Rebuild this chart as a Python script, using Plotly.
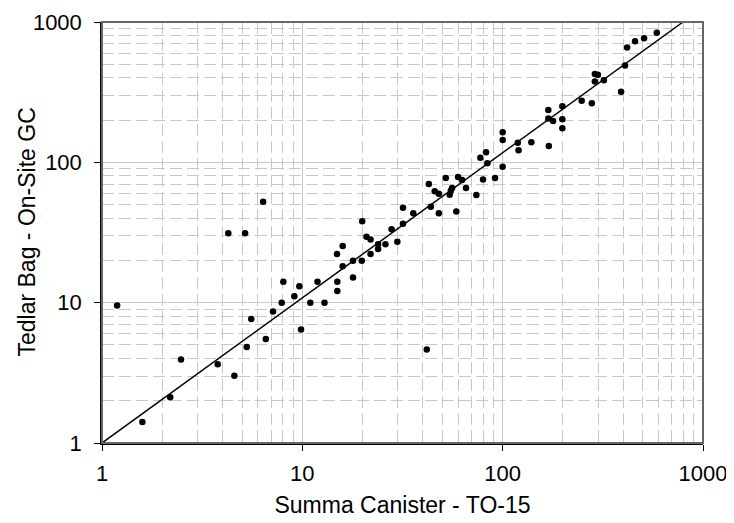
import plotly.graph_objects as go

canister = [1.19, 1.59, 2.19, 2.48, 3.78, 4.58, 5.28, 5.56, 6.57, 7.14, 7.89, 9.12, 9.85,
            8.04, 9.66, 10.96, 11.9, 12.9, 14.95, 14.95, 15.9, 17.9, 17.9, 19.8,
            4.27, 5.18, 6.37, 14.9, 15.9, 19.9, 20.9, 21.9, 21.9, 23.9, 23.9, 26.0,
            27.9, 29.8, 31.8, 35.8, 31.8, 41.8, 42.8, 43.8, 45.8, 48.0, 48.0, 52.0,
            54.4, 55.1, 55.9, 58.7, 59.9, 62.7, 65.6, 73.9, 77.4, 79.8, 82.6, 83.9,
            91.6, 100, 100, 100, 119, 120, 139, 170, 169, 169, 178.5, 198.6, 198.6,
            198.6, 248, 278.6, 288.5, 298.6, 288.5, 320, 390, 408, 418, 458, 508, 588]
tedlar = [9.55, 1.41, 2.12, 3.94, 3.64, 3.02, 4.84, 7.66, 5.52, 8.65, 10.0, 11.1, 6.44,
          14.1, 13.1, 10.0, 14.1, 10.0, 14.1, 12.1, 18.2, 15.1, 19.9, 19.9,
          31.3, 31.3, 52.4, 22.2, 25.3, 38.1, 29.5, 28.2, 22.2, 26.1, 24.1, 26.1,
          33.3, 27.2, 36.5, 43.3, 47.5, 4.64, 70.0, 48.2, 62.1, 59.7, 43.3, 77.3,
          58.7, 62.7, 65.6, 44.7, 78.6, 74.8, 65.6, 58.4, 107.9, 75.6, 117.8, 98.4,
          77.3, 164, 144, 93, 138, 122, 139, 131, 236, 205, 197, 251, 203,
          175, 275, 264, 426, 421, 376, 385, 319, 489, 657, 730, 766, 840]

fit_x = [1, 795]
fit_y = [1, 1000]

tick_vals = [1, 10, 100, 1000]
tick_text = ["1", "10", "100", "1000"]

FONT = "Liberation Sans, Arial, sans-serif"
GRID = "#c8c8c8"

fig = go.Figure()
fig.add_trace(go.Scatter(x=fit_x, y=fit_y, mode="lines",
                         line=dict(color="black", width=1.5), showlegend=False,
                         hoverinfo="skip"))
fig.add_trace(go.Scatter(x=canister, y=tedlar, mode="markers",
                         marker=dict(color="black", size=6.5), showlegend=False))

axis_common = dict(
    type="log",
    range=[0, 3],
    automargin=False,
    tickvals=tick_vals,
    ticktext=tick_text,
    ticks="outside",
    ticklen=6,
    tickcolor="black",
    showline=True,
    linecolor="black",
    linewidth=1.5,
    showgrid=True,
    gridcolor=GRID,
    gridwidth=1,
    zeroline=False,
    tickfont=dict(family=FONT, size=22, color="black"),
    minor=dict(
        tickvals=[m * 10**d for d in range(3) for m in range(2, 10)],
        showgrid=True,
        gridcolor=GRID,
        gridwidth=1,
        griddash="12px,5px",
        ticks="",
    ),
)

fig.update_xaxes(**axis_common, ticklabelstandoff=4,
                 title=dict(text="Summa Canister - TO-15",
                            font=dict(family=FONT, size=23, color="black"),
                            standoff=12))
fig.update_yaxes(**axis_common, ticklabelstandoff=8)

fig.add_annotation(text="Tedlar Bag - On-Site GC", textangle=-90,
                   xref="paper", yref="paper", x=0, y=0.5,
                   xanchor="center", yanchor="middle", xshift=-76,
                   showarrow=False,
                   font=dict(family=FONT, size=23, color="black"))

fig.add_shape(type="rect", xref="paper", yref="paper", x0=0, y0=0, x1=1, y1=1,
              line=dict(color="#666666", width=2), layer="above")

# page body has an 8px default margin, so the figure is sized to fit inside it
fig.update_layout(
    width=726, height=515,
    margin=dict(l=94, r=31, t=14, b=80),
    plot_bgcolor="white",
    paper_bgcolor="white",
)

fig.write_html("out.html")
